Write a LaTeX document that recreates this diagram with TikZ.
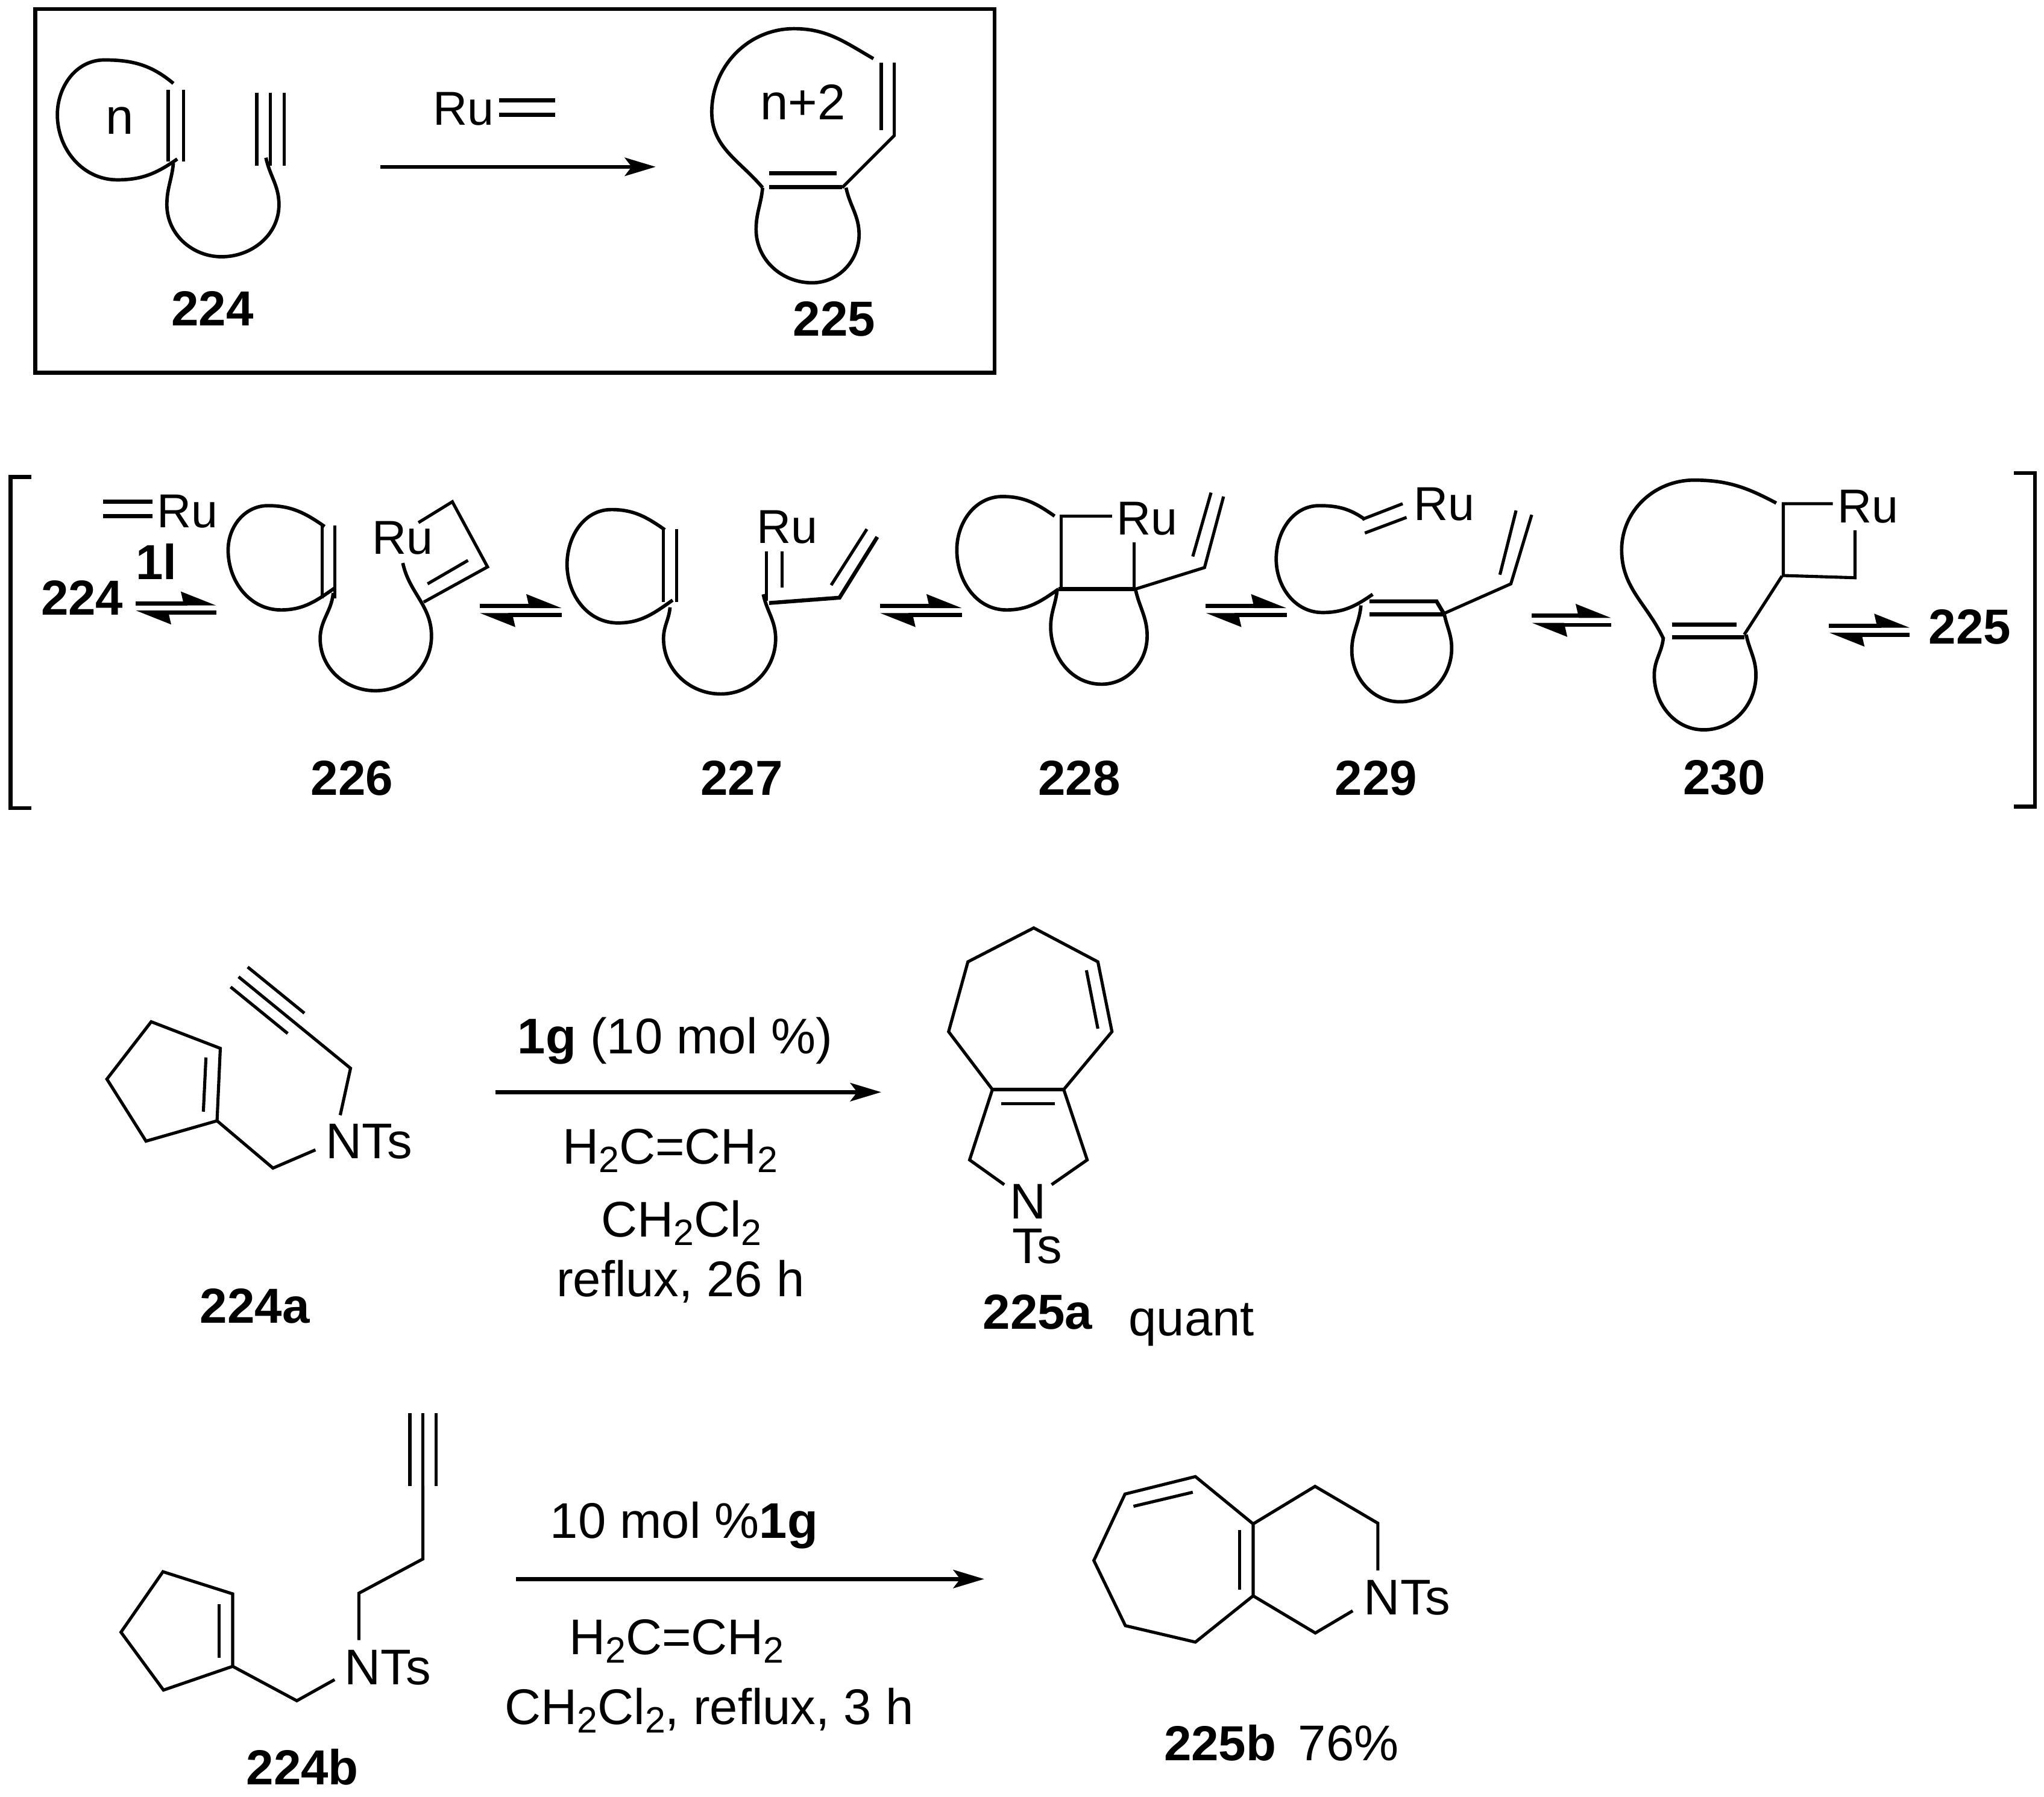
\documentclass[tikz,border=0pt]{standalone}
\usepackage{fontspec}
\setmainfont{Liberation Sans}
\usetikzlibrary{arrows.meta}
\newcommand{\subnum}[1]{\raisebox{-0.32ex}{\fontsize{16}{16}\selectfont #1}}
\tikzset{
    bond/.style={line width=1.35pt, line join=miter},
    boldbond/.style={line width=1.7pt},
    loopbond/.style={line width=1.5pt},
    framebox/.style={line width=1.7pt},
    rxnarrow/.style={line width=1.7pt, -{Stealth[length=13.5pt,width=8pt,inset=3pt]}},
    eqarrow/.style={line width=1.8pt, -{Stealth[harpoon,length=13pt,width=10pt,inset=1pt]}},
    chemtext/.style={anchor=base, inner sep=0pt, font=\fontsize{21.9}{25}\selectfont},
    rutext/.style={anchor=base, inner sep=0pt, font=\fontsize{20.8}{24}\selectfont},
    compound/.style={anchor=base, inner sep=0pt, font=\fontsize{21.5}{25}\selectfont\bfseries}
}
\begin{document}
\begin{tikzpicture}[x=0.02cm, y=-0.02cm]
        \useasboundingbox(0, 0) rectangle (1568, 1378.8);

        %%draw the frame
        \draw[framebox](27, 7) rectangle (763, 286);

        %%draw 224
        \draw[loopbond](133, 64) to[out=140, in=0] (80, 46) to[out=180, in=90] (44, 88) to[out=-90, in=180] (90, 138) to[out=0, in=215] (136, 122);
        \draw[bond](129, 69) to (129, 124);
        \draw[bond](141, 69) to (141, 124);
        \draw[loopbond](133, 125) to[out=-95, in=90] (128, 157) to[out=-90, in=180] (170, 197) to[out=0, in=-90] (214, 157) to[out=90, in=-78] (204, 121);
        \draw[bond](197, 71) to (197, 127);
        \draw[bond](207.5, 71) to (207.5, 127);
        \draw[bond](218, 71) to (218, 127);
            \node[chemtext](ringn) at(92, 103){n};
            \node[compound](lbltwotwofour) at(163, 250){224};

        %%draw the catalyst and arrow
        \node[rutext](rutop) at(355.5, 96){Ru};
        \draw[boldbond](383, 77) to (426, 77);
        \draw[boldbond](383, 88) to (426, 88);
        \coordinate (arrtopa) at (292, 128);
        \coordinate (arrtopb) at (503, 128);
        \draw[rxnarrow](arrtopa) to (arrtopb);

        %%draw 225
        \draw[loopbond](670, 45) to[out=150, in=0] (609, 22) to[out=180, in=90] (546, 86) to[out=-90, in=130] (585, 144);
        \draw[bond](676, 48) to (676, 100);
        \draw[bond](686, 48) -- (686, 104) -- (646, 144);
        \draw[boldbond](590, 143.5) to (646, 143.5);
        \draw[boldbond](590, 133) to (642, 133);
        \draw[loopbond](585, 144) to[out=-95, in=90] (580, 176) to[out=-90, in=180] (623, 217) to[out=0, in=-90] (659, 180) to[out=90, in=-78] (649, 144);
            \node[chemtext](ringnplus) at(616, 92){n+2};
            \node[compound](lbltwotwofive) at(640, 258){225};

        %%draw the brackets
        \draw[framebox](24, 366) -- (8, 366) -- (8, 620) -- (24, 620);
        \draw[framebox](1545, 363) -- (1561, 363) -- (1561, 619) -- (1545, 619);

        %%draw the catalyst 1l
        \draw[boldbond](79, 385) to (117, 385);
        \draw[boldbond](79, 396) to (117, 396);
        \node[rutext](rucat) at(144, 404.6){Ru};
        \node[compound](lblcat) at(120, 444.7){1l};
        \node[compound](lblstart) at(63, 472){224};

        %%draw the equilibrium arrows
        \coordinate (eqaa) at (104, 463); \coordinate (eqab) at (166, 463);
        \draw[eqarrow](eqaa) to (eqab);
        \draw[eqarrow]([yshift=-0.14cm]eqab) to ([yshift=-0.14cm]eqaa);
        \coordinate (eqba) at (368, 465); \coordinate (eqbb) at (431, 465);
        \draw[eqarrow](eqba) to (eqbb);
        \draw[eqarrow]([yshift=-0.14cm]eqbb) to ([yshift=-0.14cm]eqba);
        \coordinate (eqca) at (675, 465); \coordinate (eqcb) at (738, 465);
        \draw[eqarrow](eqca) to (eqcb);
        \draw[eqarrow]([yshift=-0.14cm]eqcb) to ([yshift=-0.14cm]eqca);
        \coordinate (eqda) at (925, 465); \coordinate (eqdb) at (987, 465);
        \draw[eqarrow](eqda) to (eqdb);
        \draw[eqarrow]([yshift=-0.14cm]eqdb) to ([yshift=-0.14cm]eqda);
        \coordinate (eqea) at (1175, 472.5); \coordinate (eqeb) at (1236, 472.5);
        \draw[eqarrow](eqea) to (eqeb);
        \draw[eqarrow]([yshift=-0.14cm]eqeb) to ([yshift=-0.14cm]eqea);
        \coordinate (eqfa) at (1403, 480); \coordinate (eqfb) at (1465, 480);
        \draw[eqarrow](eqfa) to (eqfb);
        \draw[eqarrow]([yshift=-0.14cm]eqfb) to ([yshift=-0.14cm]eqfa);

        %%draw 226
        \draw[loopbond](249, 404) to[out=145, in=0] (205.5, 388) to[out=180, in=90] (175, 422) to[out=-90, in=180] (215.5, 468) to[out=0, in=215] (257, 451);
        \draw[bond](247, 403) to (247, 459);
        \draw[bond](257, 403) to (257, 459);
        \draw[loopbond](255.6, 455) to[out=-95, in=90] (245.6, 490) to[out=-90, in=180] (288, 530) to[out=0, in=-90] (331, 488) to[out=90, in=-78] (309, 432);
        \draw[bond](321, 401) -- (347, 385) -- (374, 435) -- (325, 462);
        \draw[bond](359, 430) to (328, 448);
            \node[rutext](ruaa) at(309, 425.3){Ru};
            \node[compound](lblaa) at(270, 610){226};

        %%draw 227
        \draw[loopbond](510, 406.5) to[out=145, in=0] (469, 391) to[out=180, in=90] (435, 433) to[out=-90, in=180] (474, 478) to[out=0, in=215] (516, 460.5);
        \draw[bond](509, 406) to (509, 462);
        \draw[bond](519, 406) to (519, 462);
        \draw[loopbond](514, 466) to[out=-95, in=90] (509, 490) to[out=-90, in=180] (553, 532.5) to[out=0, in=-90] (595, 490) to[out=90, in=-78] (585.5, 456);
        \draw[bond](588, 423) to (588, 461);
        \draw[bond](600, 423) to (600, 451);
        \draw[boldbond](590, 462.7) -- (644, 458.6) -- (673, 412);
        \draw[bond](637.6, 449) to (665, 406);
            \node[rutext](ruab) at(604, 417){Ru};
            \node[compound](lblab) at(569, 610){227};

        %%draw 228
        \draw[loopbond](809, 396) to[out=145, in=0] (769, 381) to[out=180, in=90] (734, 422) to[out=-90, in=180] (772, 468) to[out=0, in=215] (812, 452);
        \draw[bond](853, 396) -- (814, 396) -- (814, 452);
        \draw[boldbond](812, 452) to (871, 452);
        \draw[bond](870, 416) to (870, 452);
        \draw[bond](871, 452) -- (924, 435.5) -- (938.6, 381);
        \draw[bond](915, 427) to (929, 378);
        \draw[loopbond](811, 452) to[out=-95, in=90] (806, 481) to[out=-90, in=180] (845, 525) to[out=0, in=-90] (880, 488) to[out=90, in=-78] (871, 452);
            \node[rutext](ruac) at(880, 410.5){Ru};
            \node[compound](lblac) at(828, 610){228};

        %%draw 229
        \draw[loopbond](1047, 398.5) to[out=145, in=0] (1012, 388) to[out=180, in=90] (979, 429) to[out=-90, in=180] (1014.5, 470) to[out=0, in=215] (1053, 456);
        \draw[bond](1045, 398.5) to (1076, 386.5);
        \draw[bond](1047, 409) to (1079, 397);
        \draw[boldbond](1050.5, 461.4) -- (1102, 461.4) -- (1108, 471.5);
        \draw[boldbond](1050.5, 471.5) to (1108, 471.5);
        \draw[bond](1108, 470.6) -- (1159, 448) -- (1175, 395);
        \draw[bond](1150.6, 441) to (1163, 391.7);
        \draw[loopbond](1044, 464.5) to[out=-95, in=90] (1037, 499) to[out=-90, in=180] (1074, 538.5) to[out=0, in=-90] (1113.6, 497.4) to[out=90, in=-78] (1108, 471.5);
            \node[rutext](ruad) at(1108, 399.5){Ru};
            \node[compound](lblad) at(1055.6, 610){229};

        %%draw 230
        \draw[loopbond](1362.6, 386) to[out=152, in=0] (1299.5, 368.4) to[out=180, in=90] (1244, 422) to[out=-90, in=115] (1276, 490);
        \draw[bond](1406, 386.5) -- (1368, 386.5) -- (1368, 441.6) -- (1423, 443.3) -- (1423, 407);
        \draw[bond](1367, 442) to (1338, 487);
        \draw[boldbond](1282.5, 489) to (1338, 489);
        \draw[boldbond](1282.5, 479.3) to (1332, 479.3);
        \draw[loopbond](1276, 489) to[out=-95, in=90] (1269, 518) to[out=-90, in=180] (1307, 560) to[out=0, in=-90] (1347, 518) to[out=90, in=-78] (1339.5, 487);
            \node[rutext](ruae) at(1433, 401.3){Ru};
            \node[compound](lblae) at(1322.6, 609.5){230};
        \node[compound](lblend) at(1511, 494){225};

        %%draw 224a
        \draw[bond](116, 784) -- (169, 804.4) -- (166.5, 860) -- (112, 875.6) -- (82, 828) -- cycle;
        \draw[bond](158, 811.4) to (156, 853);
        \draw[bond](166.5, 860) -- (209.4, 896.3) -- (242, 882.3);
        \draw[bond](261, 855.7) -- (268.9, 819.7) -- (183, 749.5);
        \draw[bond](176.9, 757.3) to (220.7, 793);
        \draw[bond](190, 742) to (233.5, 777.4);
            \node[chemtext](ntsa) at(283, 889){NTs};
            \node[compound](lblsa) at(195.5, 1015){224a};

        %%draw the first conditions
        \node[chemtext](conda) at(518, 808.5){\textbf{1g} (10 mol \%)};
        \coordinate (arrma) at (380, 838);
        \coordinate (arrmb) at (676, 838);
        \draw[rxnarrow](arrma) to (arrmb);
        \node[chemtext](condb) at(514, 893){H\subnum{2}C=CH\subnum{2}};
        \node[chemtext](condc) at(522.6, 949){CH\subnum{2}Cl\subnum{2}};
        \node[chemtext](condd) at(522, 995){reflux, 26 h};

        %%draw 225a
        \draw[bond](770.4, 909) -- (743.8, 890) -- (761.3, 836) -- (727.7, 791.6) -- (742.5, 738) -- (793, 712) -- (842.2, 738) -- (853, 791.6) -- (816, 836) -- (834, 890) -- (806.7, 909);
        \draw[bond](761.3, 836) to (816, 836);
        \draw[bond](768, 847) to (809, 847);
        \draw[bond](833.4, 744.5) to (842.2, 789.3);
            \node[chemtext](npa) at(788.6, 935){N};
            \node[chemtext](tspa) at(795.7, 969.5){Ts};
            \node[compound](lblpa) at(796, 1020){225a};
            \node[chemtext](yielda) at(914, 1024.7){quant};

        %%draw 224b
        \draw[bond](125, 1206) -- (178.5, 1223) -- (178.5, 1278.6) -- (125.4, 1296.8) -- (92.8, 1252.4) -- cycle;
        \draw[bond](168, 1231) to (168, 1272);
        \draw[bond](178.5, 1278.6) -- (227.7, 1305) -- (256.7, 1288.8);
        \draw[bond](275.3, 1258.5) -- (275.3, 1222.5) -- (324.4, 1196.2) -- (324.4, 1140.3);
        \draw[bond](314.4, 1084.3) to (314.4, 1140.3);
        \draw[bond](324.4, 1084.3) to (324.4, 1140.3);
        \draw[bond](334.4, 1084.3) to (334.4, 1140.3);
            \node[chemtext](ntsb) at(297.5, 1292.4){NTs};
            \node[compound](lblsb) at(232, 1369.5){224b};

        %%draw the second conditions
        \node[chemtext](conde) at(524.8, 1180.3){10 mol \%\textbf{1g}};
        \coordinate (arrba) at (395.6, 1211.6);
        \coordinate (arrbb) at (755, 1211.6);
        \draw[rxnarrow](arrba) to (arrbb);
        \node[chemtext](condf) at(519, 1269.6){H\subnum{2}C=CH\subnum{2}};
        \node[chemtext](condg) at(544, 1323){CH\subnum{2}Cl\subnum{2}, reflux, 3 h};

        %%draw 225b
        \draw[bond](961.3, 1169.3) -- (917, 1133) -- (863, 1146.4) -- (839.1, 1197.4) -- (863.3, 1247.4) -- (917, 1260) -- (961.3, 1224.5) -- cycle;
        \draw[bond](869.5, 1155.8) to (915, 1145);
        \draw[bond](950.8, 1174) to (950.8, 1220);
        \draw[bond](961.3, 1169.3) -- (1008.8, 1140.5) -- (1057, 1168.8) -- (1057, 1205);
        \draw[bond](961.3, 1224.5) -- (1009, 1253) -- (1037.7, 1236);
            \node[chemtext](ntsc) at(1079.5, 1239){NTs};
            \node[compound](lblpb) at(936, 1351){225b};
            \node[chemtext](yieldb) at(1034.5, 1351){76\%};
\end{tikzpicture}
\end{document}
